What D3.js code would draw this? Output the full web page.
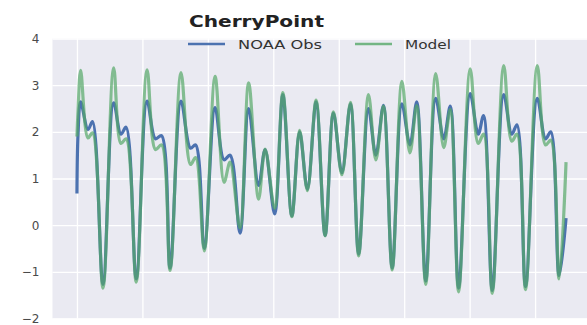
<!DOCTYPE html>
<html>
<head>
<meta charset="utf-8">
<script src="https://cdn.jsdelivr.net/npm/d3@7"></script>
<style>
  html, body { margin: 0; padding: 0; background: #fff; }
  svg { display: block; font-family: "DejaVu Sans", sans-serif; }
</style>
</head>
<body>
<svg id="chart" width="587" height="325"></svg>
<script>
// Water level at Cherry Point: hours since start of record, observed vs modelled (m)
const hours = [0, 0.8, 2.7, 8.1, 11.4, 19.1, 26.9, 32.3, 36.0, 43.5, 51.4, 57.6, 62.0, 68.3,
  76.3, 83.3, 87.0, 93.4, 101.3, 107.9, 112.3, 119.6, 125.9, 133.2, 138.0, 145.0, 151.0, 157.6,
  163.3, 169.0, 175.4, 182.0, 188.1, 194.3, 200.6, 206.6, 213.8, 219.2, 224.8, 231.2, 238.3,
  244.2, 249.2, 255.8, 263.1, 269.0, 273.8, 279.9, 288.4, 294.3, 298.2, 304.6, 313.0, 318.9,
  322.7, 329.0, 337.6, 343.7, 347.5, 353.6, 358.7];

const obs = [0.68, 1.95, 2.64, 2.05, 2.22, -1.27, 2.62, 1.95, 2.10, -1.15, 2.66, 1.85, 1.92, -0.92,
  2.66, 1.65, 1.72, -0.50, 2.52, 1.40, 1.50, -0.17, 2.50, 0.85, 1.62, 0.24, 2.80, 0.20,
  2.00, 0.77, 2.64, -0.22, 2.40, 1.12, 2.60, -0.62, 2.50, 1.50, 2.57, -0.92, 2.60,
  1.72, 2.64, -1.20, 2.72, 1.85, 2.55, -1.35, 2.82, 1.95, 2.35, -1.40, 2.80, 1.95,
  2.15, -1.32, 2.72, 1.85, 2.00, -1.08, 0.15];

const model = [1.90, 2.45, 3.32, 1.87, 1.98, -1.35, 3.37, 1.75, 1.85, -1.22, 3.33, 1.62, 1.72, -0.97,
  3.27, 1.30, 1.45, -0.55, 3.19, 0.92, 1.35, -0.06, 3.05, 0.56, 1.63, 0.36, 2.84, 0.18,
  2.03, 0.74, 2.68, -0.23, 2.43, 1.08, 2.63, -0.66, 2.80, 1.40, 2.55, -0.96, 3.08,
  1.55, 2.56, -1.27, 3.25, 1.66, 2.48, -1.43, 3.35, 1.75, 1.95, -1.46, 3.42, 1.80,
  1.95, -1.38, 3.42, 1.72, 1.82, -1.15, 1.35];

const yTicks = [-2, -1, 0, 1, 2, 3, 4];
const seriesNames = ["NOAA Obs", "Model"];
const titleText = "CherryPoint";

const colors = { obs: "#4c72b0", model: "#55a868" };

const svg = d3.select("#chart");
const plot = { left: 52.5, top: 38.5, width: 538, height: 280 };

// 5% padding on the time axis, fixed y limits
const tMin = d3.min(hours), tMax = d3.max(hours);
const pad = (tMax - tMin) * 0.05;
const x = d3.scaleLinear().domain([tMin - pad, tMax + pad]).range([0, plot.width]);
const y = d3.scaleLinear().domain([-2, 4]).range([plot.height, 0]);

const g = svg.append("g").attr("transform", `translate(${plot.left},${plot.top})`);

g.append("rect")
  .attr("width", plot.width).attr("height", plot.height)
  .attr("fill", "#eaeaf2");

svg.append("defs").append("clipPath").attr("id", "plotClip")
  .append("rect").attr("width", plot.width).attr("height", plot.height);

// white grid, horizontal every unit, vertical every 48 h
g.append("g")
  .call(d3.axisLeft(y).tickValues(yTicks).tickSize(-plot.width).tickFormat(""))
  .call(a => a.select(".domain").remove())
  .call(a => a.selectAll("line").attr("stroke", "#fff").attr("stroke-width", 1.3));

g.append("g")
  .call(d3.axisBottom(x).tickValues(d3.range(0, tMax + 1, 48)).tickSize(plot.height).tickFormat(""))
  .call(a => a.select(".domain").remove())
  .call(a => a.selectAll("line").attr("stroke", "#fff").attr("stroke-width", 1.3));

// y tick labels
g.append("g")
  .call(d3.axisLeft(y).tickValues(yTicks).tickSize(0).tickPadding(13)
    .tickFormat(d => d < 0 ? "\u2212" + Math.abs(d) : String(d)))
  .call(a => a.select(".domain").remove())
  .call(a => a.selectAll("text")
    .attr("font-size", 12).attr("fill", "#4a4a4a")
    .attr("font-family", "'DejaVu Sans', sans-serif"));

const line = (vals) => d3.line()
  .x((d, i) => x(hours[i]))
  .y(d => y(d))
  .curve(d3.curveCatmullRom.alpha(0.5))(vals);

const lines = g.append("g").attr("clip-path", "url(#plotClip)");
lines.append("path").attr("d", line(obs))
  .attr("fill", "none").attr("stroke", colors.obs)
  .attr("stroke-width", 3.2).attr("stroke-linejoin", "round");
lines.append("path").attr("d", line(model))
  .attr("fill", "none").attr("stroke", colors.model).attr("stroke-opacity", 0.7)
  .attr("stroke-width", 3.2).attr("stroke-linejoin", "round");

// title
svg.append("text")
  .attr("x", 189).attr("y", 27)
  .attr("font-size", 16).attr("font-weight", "bold").attr("fill", "#222")
  .attr("textLength", 135).attr("lengthAdjust", "spacingAndGlyphs")
  .text(titleText);

// legend
const legend = svg.append("g");
const legendItems = [
  { name: seriesNames[0], color: colors.obs, op: 1, x0: 188, tx: 238, tl: 84 },
  { name: seriesNames[1], color: colors.model, op: 0.8, x0: 355, tx: 405, tl: 46 }
];
legendItems.forEach(it => {
  legend.append("line")
    .attr("x1", it.x0).attr("x2", it.x0 + 37).attr("y1", 44).attr("y2", 44)
    .attr("stroke", it.color).attr("stroke-opacity", it.op).attr("stroke-width", 2.5);
  legend.append("text")
    .attr("x", it.tx).attr("y", 49)
    .attr("font-size", 13).attr("fill", "#333")
    .attr("textLength", it.tl).attr("lengthAdjust", "spacingAndGlyphs")
    .text(it.name);
});
</script>
</body>
</html>
